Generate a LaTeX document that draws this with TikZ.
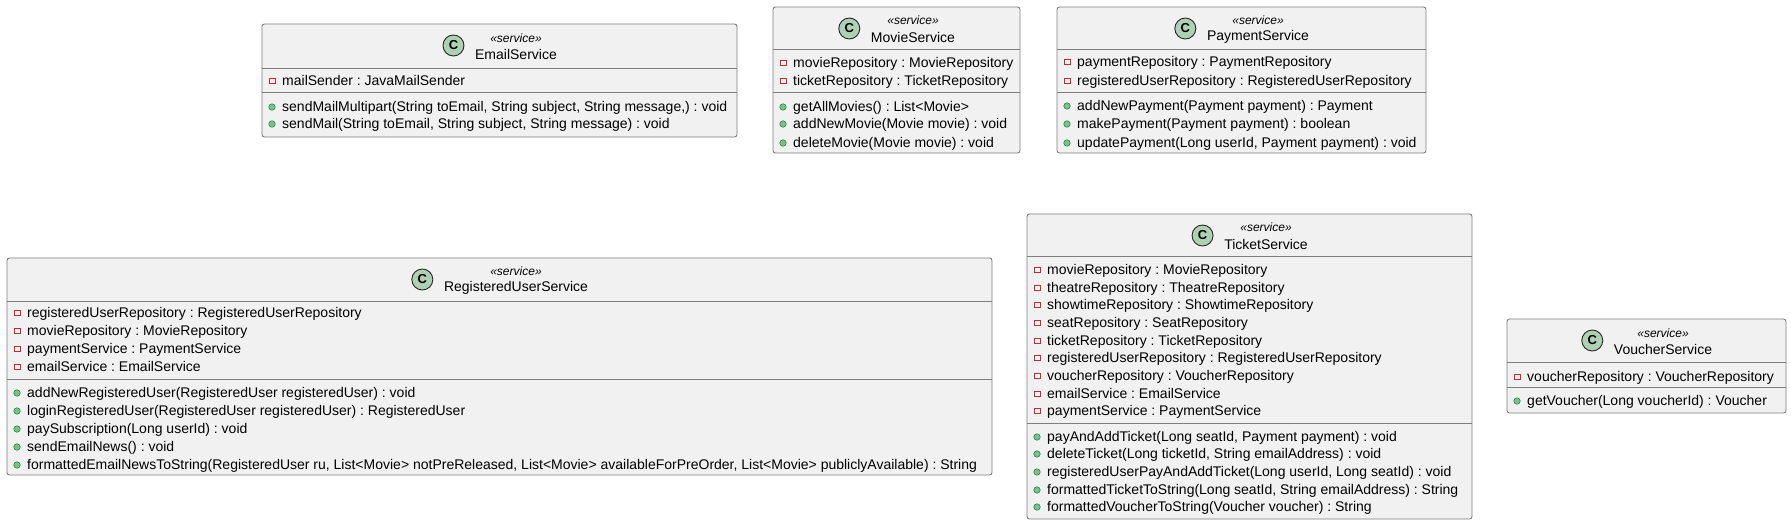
\documentclass[tikz,border=0pt]{standalone}
\usepackage{fontspec}
\setmainfont{Liberation Sans}
\usetikzlibrary{positioning}
\frenchspacing

\definecolor{boxfill}{HTML}{F1F1F1}
\definecolor{boxline}{HTML}{7E7E7E}
\definecolor{cgreen}{HTML}{ADD1B2}
\definecolor{privred}{HTML}{C82930}
\definecolor{pubfill}{HTML}{84BE84}
\definecolor{publine}{HTML}{038048}

\tikzset{
  box/.style={draw=boxline, fill=boxfill, line width=0.9pt, rounded corners=2.5pt},
  sep/.style={draw=boxline, line width=0.9pt},
  cname/.style={inner sep=0pt, font=\fontsize{14}{16}\selectfont},
  stereo/.style={inner sep=0pt, font=\itshape\fontsize{12}{14}\selectfont},
  cicon/.style={circle, draw=black!85, line width=0.9pt, fill=cgreen, minimum size=21pt, inner sep=0pt, font=\bfseries\fontsize{13}{13}\selectfont},
  privicon/.style={draw=privred, line width=0.8pt, minimum size=5.5pt, inner sep=0pt},
  pubicon/.style={circle, draw=publine, fill=pubfill, line width=0.5pt, minimum size=6.5pt, inner sep=0pt},
  attr/.style={anchor=west, inner sep=0pt, text height=12pt, text depth=3pt, font=\fontsize{14}{16}\selectfont, label={[privicon]left:{}}},
  meth/.style={anchor=west, inner sep=0pt, text height=12pt, text depth=3pt, font=\fontsize{14}{16}\selectfont, label={[pubicon]left:{}}}
}

\begin{document}
\begin{tikzpicture}[x=1pt, y=-1pt, label distance=6.5pt]
  \useasboundingbox (0,0) rectangle (1791,525);

  % EmailService
  \draw [box] (262,24) rectangle (737,137);
  \draw [sep] (262,68) -- (737,68);
  \draw [sep] (262,92) -- (737,92);
  \node [stereo] (emailS) at (516,38) {«service»};
  \node [cname] (emailN) at (516,54) {EmailService};
  \node [cicon] (emailC) at ([xshift=-21.5pt, yshift=8.5pt]emailN.west) {C};
  \node [attr] (em1) at (282,81) {mailSender : JavaMailSender};
  \node [meth] (em2) at (282,107) {sendMailMultipart(String toEmail, String subject, String message,) : void};
  \node [meth] (em3) at (282,124) {sendMail(String toEmail, String subject, String message) : void};

  % MovieService
  \draw [box] (773,7) rectangle (1020,153);
  \draw [sep] (773,49) -- (1020,49);
  \draw [sep] (773,92) -- (1020,92);
  \node [stereo] (movieS) at (913,20) {«service»};
  \node [cname] (movieN) at (913,37) {MovieService};
  \node [cicon] (movieC) at ([xshift=-21.5pt, yshift=8.5pt]movieN.west) {C};
  \node [attr] (mv1) at (793,63) {movieRepository : MovieRepository};
  \node [attr] (mv2) at (793,81) {ticketRepository : TicketRepository};
  \node [meth] (mv3) at (793,107) {getAllMovies() : List<Movie>};
  \node [meth] (mv4) at (793,124) {addNewMovie(Movie movie) : void};
  \node [meth] (mv5) at (793,143) {deleteMovie(Movie movie) : void};

  % PaymentService
  \draw [box] (1057,7) rectangle (1426,153);
  \draw [sep] (1057,49) -- (1426,49);
  \draw [sep] (1057,92) -- (1426,92);
  \node [stereo] (payS) at (1258,20) {«service»};
  \node [cname] (payN) at (1258,37) {PaymentService};
  \node [cicon] (payC) at ([xshift=-21.5pt, yshift=8.5pt]payN.west) {C};
  \node [attr] (py1) at (1077,62) {paymentRepository : PaymentRepository};
  \node [attr] (py2) at (1077,81) {registeredUserRepository : RegisteredUserRepository};
  \node [meth] (py3) at (1077,106) {addNewPayment(Payment payment) : Payment};
  \node [meth] (py4) at (1077,124) {makePayment(Payment payment) : boolean};
  \node [meth] (py5) at (1077,143) {updatePayment(Long userId, Payment payment) : void};

  % RegisteredUserService
  \draw [box] (7,258) rectangle (992,475);
  \draw [sep] (7,301) -- (992,301);
  \draw [sep] (7,379) -- (992,379);
  \node [stereo] (regS) at (516,271) {«service»};
  \node [cname] (regN) at (516,288) {RegisteredUserService};
  \node [cicon] (regC) at ([xshift=-21.5pt, yshift=8.5pt]regN.west) {C};
  \node [attr] (rg1) at (27,313) {registeredUserRepository : RegisteredUserRepository};
  \node [attr] (rg2) at (27,331) {movieRepository : MovieRepository};
  \node [attr] (rg3) at (27,349) {paymentService : PaymentService};
  \node [attr] (rg4) at (27,367) {emailService : EmailService};
  \node [meth] (rg5) at (27,393) {addNewRegisteredUser(RegisteredUser registeredUser) : void};
  \node [meth] (rg6) at (27,411) {loginRegisteredUser(RegisteredUser registeredUser) : RegisteredUser};
  \node [meth] (rg7) at (27,429) {paySubscription(Long userId) : void};
  \node [meth] (rg8) at (27,447) {sendEmailNews() : void};
  \node [meth] (rg9) at (27,465) {formattedEmailNewsToString(RegisteredUser ru, List<Movie> notPreReleased, List<Movie> availableForPreOrder, List<Movie> publiclyAvailable) : String};

  % TicketService
  \draw [box] (1027,214) rectangle (1472,519);
  \draw [sep] (1027,256) -- (1472,256);
  \draw [sep] (1027,423) -- (1472,423);
  \node [stereo] (tickS) at (1266,227) {«service»};
  \node [cname] (tickN) at (1266,244) {TicketService};
  \node [cicon] (tickC) at ([xshift=-21.5pt, yshift=8.5pt]tickN.west) {C};
  \node [attr] (tk1) at (1047,270) {movieRepository : MovieRepository};
  \node [attr] (tk2) at (1047,288) {theatreRepository : TheatreRepository};
  \node [attr] (tk3) at (1047,305) {showtimeRepository : ShowtimeRepository};
  \node [attr] (tk4) at (1047,323) {seatRepository : SeatRepository};
  \node [attr] (tk5) at (1047,341) {ticketRepository : TicketRepository};
  \node [attr] (tk6) at (1047,358) {registeredUserRepository : RegisteredUserRepository};
  \node [attr] (tk7) at (1047,376) {voucherRepository : VoucherRepository};
  \node [attr] (tk8) at (1047,394) {emailService : EmailService};
  \node [attr] (tk9) at (1047,411) {paymentService : PaymentService};
  \node [meth] (tk10) at (1047,437) {payAndAddTicket(Long seatId, Payment payment) : void};
  \node [meth] (tk11) at (1047,454) {deleteTicket(Long ticketId, String emailAddress) : void};
  \node [meth] (tk12) at (1047,472) {registeredUserPayAndAddTicket(Long userId, Long seatId) : void};
  \node [meth] (tk13) at (1047,490) {formattedTicketToString(Long seatId, String emailAddress) : String};
  \node [meth] (tk14) at (1047,507) {formattedVoucherToString(Voucher voucher) : String};

  % VoucherService
  \draw [box] (1507,319) rectangle (1786,413);
  \draw [sep] (1507,362) -- (1786,362);
  \draw [sep] (1507,387) -- (1786,387);
  \node [stereo] (vouS) at (1663,333) {«service»};
  \node [cname] (vouN) at (1663,349) {VoucherService};
  \node [cicon] (vouC) at ([xshift=-21.5pt, yshift=8.5pt]vouN.west) {C};
  \node [attr] (vo1) at (1527,377) {voucherRepository : VoucherRepository};
  \node [meth] (vo2) at (1527,401) {getVoucher(Long voucherId) : Voucher};
\end{tikzpicture}
\end{document}
